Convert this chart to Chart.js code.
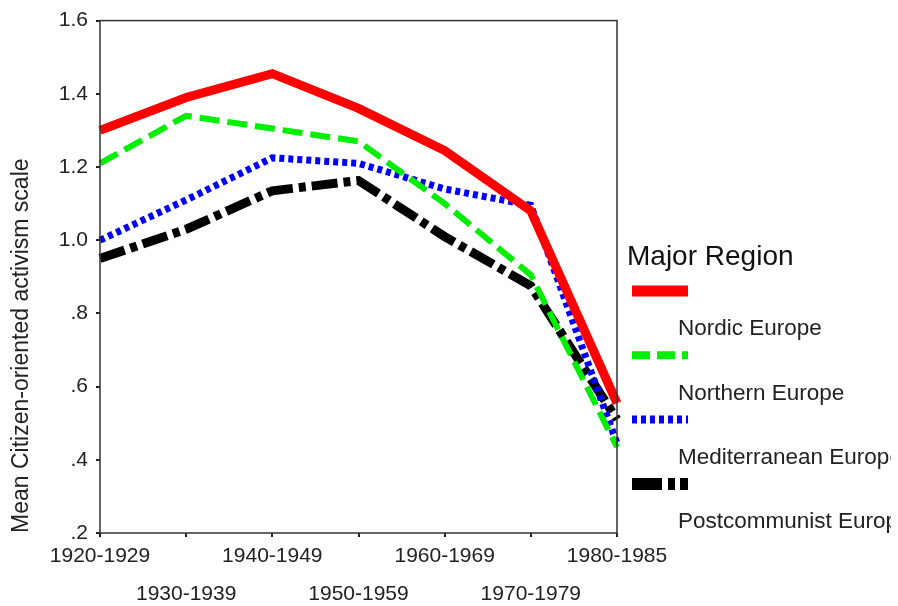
<!DOCTYPE html>
<html>
<head>
<meta charset="utf-8">
<script src="https://cdn.jsdelivr.net/npm/chart.js@4"></script>
<style>
html,body{margin:0;padding:0;background:#fff;}
#wrap{width:898px;height:606px;position:relative;}
</style>
</head>
<body>
<div id="wrap"><canvas id="c" width="898" height="606"></canvas></div>
<script>
const categories = ['1920-1929','1930-1939','1940-1949','1950-1959','1960-1969','1970-1979','1980-1985'];
const nordic = [1.30, 1.39, 1.455, 1.36, 1.245, 1.08, 0.555];
const northern = [1.21, 1.34, 1.305, 1.27, 1.10, 0.905, 0.435];
const mediterranean = [1.00, 1.11, 1.225, 1.21, 1.14, 1.095, 0.445];
const postcommunist = [0.95, 1.03, 1.135, 1.163, 1.01, 0.875, 0.51];
const yTicks = [0.2, 0.4, 0.6, 0.8, 1.0, 1.2, 1.4, 1.6];
const seriesNames = ['Nordic Europe','Northern Europe','Mediterranean Europe','Postcommunist Europe'];
const legendTitle = 'Major Region';
const yTitle = 'Mean Citizen-oriented activism scale';

const FONT = 'Liberation Sans, Arial, sans-serif';

const boxPlugin = {
  id: 'box',
  afterDraw(chart) {
    const {ctx, chartArea: a} = chart;
    ctx.save();
    ctx.strokeStyle = '#333';
    ctx.lineWidth = 1.5;
    ctx.strokeRect(a.left, a.top, a.right - a.left, a.bottom - a.top);
    ctx.restore();
  }
};

const legendWidths = [11, 8, 8, 12];
const legendDash = [[], [18, 7], [5, 4], [30, 6, 7, 5]];

const legendPlugin = {
  id: 'customLegend',
  afterDraw(chart) {
    const ctx = chart.ctx;
    ctx.save();
    ctx.beginPath();
    ctx.rect(0, 0, 891, 606);
    ctx.clip();
    ctx.fillStyle = '#111';
    ctx.font = '28px ' + FONT;
    ctx.textBaseline = 'middle';
    ctx.textAlign = 'left';
    ctx.fillText(legendTitle, 627, 257);
    const sampleY0 = 291, step = 64.3;
    chart.data.datasets.forEach((ds, i) => {
      const y = sampleY0 + i * step;
      ctx.save();
      ctx.strokeStyle = ds.borderColor;
      ctx.lineWidth = legendWidths[i];
      ctx.setLineDash(legendDash[i]);
      ctx.lineCap = 'butt';
      ctx.beginPath();
      ctx.moveTo(632, y);
      ctx.lineTo(688, y);
      ctx.stroke();
      ctx.restore();
      ctx.fillStyle = '#222';
      ctx.font = '22.5px ' + FONT;
      ctx.fillText(ds.label, 678, y + 38);
    });
    ctx.restore();
  }
};

const mk = (label, data, color, width, dash) => ({
  label, data, borderColor: color, backgroundColor: color,
  borderWidth: width, borderDash: dash, pointRadius: 0, pointHoverRadius: 0,
  tension: 0, fill: false, borderCapStyle: 'butt', borderJoinStyle: 'miter'
});

new Chart(document.getElementById('c'), {
  type: 'line',
  data: {
    labels: categories,
    datasets: [
      mk(seriesNames[0], nordic, '#ff0000', 9, []),
      mk(seriesNames[1], northern, '#00ee00', 6, [20, 8]),
      mk(seriesNames[2], mediterranean, '#0000ff', 7, [5, 4]),
      mk(seriesNames[3], postcommunist, '#000000', 9, [26, 6, 7, 6])
    ]
  },
  options: {
    responsive: false,
    animation: false,
    layout: { padding: { top: 20, right: 281, left: 0, bottom: 0 } },
    plugins: { legend: { display: false }, tooltip: { enabled: false } },
    scales: {
      x: {
        type: 'category',
        offset: false,
        grid: { drawOnChartArea: false, drawTicks: true, tickLength: 4, color: '#222', lineWidth: 2 },
        border: { display: false },
        ticks: {
          autoSkip: false, maxRotation: 0, minRotation: 0, padding: 0,
          color: '#222',
          font: { family: FONT, size: 21, lineHeight: 1.81 },
          callback: function(v, i) { const l = categories[i]; return i % 2 === 0 ? l : ['', l]; }
        },
        afterFit(s) { s.height = 73; }
      },
      y: {
        min: 0.2, max: 1.6,
        afterBuildTicks(s) { s.ticks = yTicks.map(v => ({ value: v })); },
        grid: { drawOnChartArea: false, drawTicks: true, tickLength: 4, color: '#222', lineWidth: 2 },
        border: { display: false },
        ticks: {
          color: '#222', padding: 8,
          font: { family: FONT, size: 21 },
          callback: v => { const s = v.toFixed(1); return s.startsWith('0') ? s.slice(1) : s; }
        },
        title: {
          display: true, text: yTitle, align: 'start', color: '#222',
          font: { family: FONT, size: 23 }, padding: { top: 8, bottom: 0 }
        },
        afterFit(s) { s.width = 100; }
      }
    }
  },
  plugins: [boxPlugin, legendPlugin]
});
</script>
</body>
</html>
